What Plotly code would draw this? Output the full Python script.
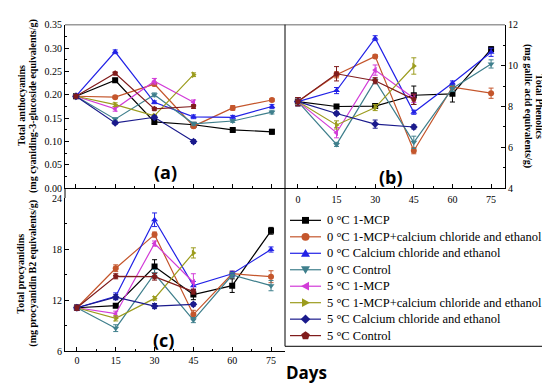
import math
import plotly.graph_objects as go

W, H = 550, 384

days = [0, 15, 30, 45, 60, 75]
days5 = [0, 15, 30, 45]

series_names = [
    "0 °C 1-MCP",
    "0 °C 1-MCP+calcium chloride and ethanol",
    "0 °C Calcium chloride and ethanol",
    "0 °C Control",
    "5 °C 1-MCP",
    "5 °C 1-MCP+calcium chloride and ethanol",
    "5 °C Calcium chloride and ethanol",
    "5 °C Control",
]
colors = ["#000000", "#c4562c", "#2222e6", "#3f7f8c",
          "#d23cd8", "#9c9c1e", "#1a1a8c", "#801c1c"]
symbols = ["square", "circle", "triangle-up", "triangle-down",
           "triangle-left", "triangle-right", "diamond", "pentagon"]

# (a) Total anthocyanins
anth_0_mcp = [0.197, 0.231, 0.142, 0.136, 0.125, 0.121]
anth_0_mcp_ca = [0.197, 0.195, 0.223, 0.133, 0.172, 0.189]
anth_0_ca = [0.197, 0.292, 0.184, 0.153, 0.152, 0.175]
anth_0_ctrl = [0.197, 0.148, 0.200, 0.138, 0.144, 0.163]
anth_5_mcp = [0.197, 0.170, 0.229, 0.184]
anth_5_mcp_ca = [0.197, 0.179, 0.155, 0.243]
anth_5_ca = [0.197, 0.140, 0.152, 0.100]
anth_5_ctrl = [0.197, 0.246, 0.170, 0.175]
anth_err = [
    [0.003, 0.004, 0.003, 0.003, 0.003, 0.005],
    [0.003, 0.003, 0.004, 0.004, 0.005, 0.003],
    [0.003, 0.004, 0.003, 0.004, 0.004, 0.004],
    [0.003, 0.003, 0.004, 0.003, 0.003, 0.004],
    [0.003, 0.005, 0.006, 0.005],
    [0.003, 0.004, 0.003, 0.004],
    [0.003, 0.003, 0.003, 0.004],
    [0.003, 0.003, 0.003, 0.004],
]

# (b) Total phenolics
phen_0_mcp = [8.24, 8.00, 8.02, 8.55, 8.62, 10.80]
phen_0_mcp_ca = [8.24, 9.55, 10.45, 5.84, 8.95, 8.65]
phen_0_ca = [8.24, 8.78, 11.34, 7.72, 9.15, 10.65]
phen_0_ctrl = [8.24, 6.15, 9.26, 6.25, 8.88, 10.08]
phen_5_mcp = [8.24, 6.72, 9.78, 8.40]
phen_5_mcp_ca = [8.24, 7.10, 7.95, 9.98]
phen_5_ca = [8.24, 7.66, 7.14, 7.00]
phen_5_ctrl = [8.24, 9.60, 9.26, 8.35]
phen_err = [
    [0.2, 0.1, 0.1, 0.45, 0.4, 0.12],
    [0.2, 0.15, 0.08, 0.15, 0.1, 0.25],
    [0.2, 0.15, 0.12, 0.1, 0.1, 0.2],
    [0.2, 0.1, 0.12, 0.3, 0.15, 0.2],
    [0.2, 0.25, 0.25, 0.2],
    [0.2, 0.2, 0.15, 0.4],
    [0.2, 0.08, 0.2, 0.1],
    [0.2, 0.35, 0.15, 0.25],
]

# (c) Total procyanidins
proc_0_mcp = [11.1, 11.35, 15.95, 12.65, 13.7, 20.15]
proc_0_mcp_ca = [11.1, 15.75, 19.7, 10.3, 15.1, 14.75]
proc_0_ca = [11.1, 12.45, 21.45, 13.7, 15.1, 17.95]
proc_0_ctrl = [11.1, 8.7, 15.1, 9.65, 14.95, 13.7]
proc_5_mcp = [11.1, 10.4, 18.65, 14.1]
proc_5_mcp_ca = [11.1, 9.85, 12.2, 17.55]
proc_5_ca = [11.1, 12.35, 11.3, 11.5]
proc_5_ctrl = [11.1, 14.8, 14.75, 13.0]
proc_err = [
    [0.3, 0.2, 0.8, 0.6, 0.8, 0.4],
    [0.3, 0.4, 0.3, 0.5, 0.3, 0.7],
    [0.3, 0.4, 0.8, 0.5, 0.3, 0.3],
    [0.3, 0.4, 0.5, 0.3, 0.3, 0.6],
    [0.3, 0.3, 0.3, 1.0],
    [0.3, 0.3, 0.2, 0.6],
    [0.3, 0.3, 0.3, 0.2],
    [0.3, 0.3, 0.4, 0.3],
]

anth = [anth_0_mcp, anth_0_mcp_ca, anth_0_ca, anth_0_ctrl,
        anth_5_mcp, anth_5_mcp_ca, anth_5_ca, anth_5_ctrl]
phen = [phen_0_mcp, phen_0_mcp_ca, phen_0_ca, phen_0_ctrl,
        phen_5_mcp, phen_5_mcp_ca, phen_5_ca, phen_5_ctrl]
proc = [proc_0_mcp, proc_0_mcp_ca, proc_0_ca, proc_0_ctrl,
        proc_5_mcp, proc_5_mcp_ca, proc_5_ca, proc_5_ctrl]


def px_x(p):
    return p / W


def px_y(p):
    return 1 - p / H


fig = go.Figure()

panels = [(anth, anth_err, "x", "y"), (phen, phen_err, "x2", "y2"), (proc, proc_err, "x3", "y3")]
for pi, (vals, errs, xa, ya) in enumerate(panels):
    for i, name in enumerate(series_names):
        xs = days if len(vals[i]) == 6 else days5
        fig.add_trace(go.Scatter(
            x=xs, y=vals[i], name=name, mode="lines+markers",
            xaxis=xa, yaxis=ya,
            line=dict(color=colors[i], width=1.2),
            marker=dict(symbol=symbols[i], size=6, color=colors[i]),
            error_y=dict(type="data", array=errs[i], color=colors[i], thickness=1, width=2.5),
            showlegend=False,
        ))

tickfont = dict(family="Liberation Serif", size=10, color="black")
common = dict(showgrid=False, zeroline=False, showline=True, linecolor="black", linewidth=1,
              ticks="inside", ticklen=4, tickcolor="black", tickfont=tickfont)

C_TOP = 190

fig.update_layout(
    width=W, height=H, margin=dict(l=0, r=0, t=0, b=0),
    paper_bgcolor="white", plot_bgcolor="white",
    xaxis=dict(domain=[px_x(57), px_x(277)], range=[-4.2, 80], anchor="y",
               tickvals=days, showticklabels=False,
               minor=dict(dtick=7.5, tick0=0, ticks="inside", ticklen=2, tickcolor="black"), **common),
    yaxis=dict(domain=[px_y(180), px_y(11)], range=[0, 0.35], anchor="x",
               dtick=0.05, tickformat=".2f",
               minor=dict(dtick=0.025, ticks="inside", ticklen=2, tickcolor="black"), **common),
    xaxis2=dict(domain=[px_x(277), px_x(497)], range=[-5, 80.4], anchor="y2",
                tickvals=days, ticklabelstandoff=2,
                minor=dict(dtick=7.5, tick0=0, ticks="inside", ticklen=2, tickcolor="black"), **common),
    yaxis2=dict(domain=[px_y(180), px_y(11)], range=[4, 12], anchor="x2", side="right",
                dtick=2,
                minor=dict(dtick=1, ticks="inside", ticklen=2, tickcolor="black"), **common),
    xaxis3=dict(domain=[px_x(57), px_x(277)], range=[-4.6, 80.4], anchor="y3",
                tickvals=days,
                minor=dict(dtick=7.5, tick0=0, ticks="inside", ticklen=2, tickcolor="black"), **common),
    yaxis3=dict(domain=[px_y(348), px_y(C_TOP)], range=[6, 24], anchor="x3",
                dtick=6,
                minor=dict(dtick=3, ticks="inside", ticklen=2, tickcolor="black"), **common),
    showlegend=False,
)

shapes = [
    dict(type="line", xref="paper", yref="paper", x0=px_x(57), x1=px_x(497),
         y0=px_y(11), y1=px_y(11), line=dict(color="#9a9a9a", width=1.5)),
    dict(type="line", xref="paper", yref="paper", x0=px_x(277), x1=px_x(277),
         y0=px_y(343), y1=px_y(11), line=dict(color="black", width=1)),
    dict(type="line", xref="paper", yref="paper", x0=px_x(277), x1=1.0,
         y0=px_y(343), y1=px_y(343), line=dict(color="black", width=1)),
    dict(type="line", xref="paper", yref="paper", x0=px_x(57), x1=px_x(57),
         y0=px_y(C_TOP), y1=px_y(180), line=dict(color="black", width=1)),
]

title_font = dict(family="Liberation Serif", size=10, color="black")
lab_font = dict(family="Open Sans", size=18, color="black")


def ann(text, x, y, angle=0, font=title_font, xanchor="center"):
    return dict(text=text, xref="paper", yref="paper", x=px_x(x), y=px_y(y),
                xanchor=xanchor, yanchor="middle", textangle=angle,
                showarrow=False, font=font)


annotations = [
    ann("<b>Total anthocyanins</b>", 13, 95, -90),
    ann("<b>(mg cyaniding-3-glucoside equivalents/g)</b>", 25, 95, -90),
    ann("<b>Total Phenolics</b>", 532, 95, 90),
    ann("<b>(mg gallic acid equivalents/g)</b>", 520, 95, 90),
    ann("<b>Total procyanidins</b>", 13, 268, -90),
    ann("<b>(mg procyanidin B2 equivalents/g)</b>", 25, 268, -90),
    ann("<b>(a)</b>", 157, 163, font=lab_font),
    ann("<b>(b)</b>", 383, 168, font=lab_font),
    ann("<b>(c)</b>", 155, 337, font=lab_font),
    ann("<b>Days</b>", 299, 370, font=dict(family="Open Sans", size=17, color="black")),
]


# ----- legend (decoration drawn in pixel space) -----
def poly_path(cx, cy, pts):
    s = ""
    for k, (dx, dy) in enumerate(pts):
        s += ("M" if k == 0 else "L") + f"{px_x(cx + dx):.5f},{px_y(cy + dy):.5f} "
    return s + "Z"


def reg_poly(n, r, start_deg):
    return [(r * math.cos(math.radians(start_deg + 360 * k / n)),
             r * math.sin(math.radians(start_deg + 360 * k / n))) for k in range(n)]


marker_pts = {
    "square": [(-3.5, -3.5), (3.5, -3.5), (3.5, 3.5), (-3.5, 3.5)],
    "triangle-up": [(0, -4.5), (4.5, 3.5), (-4.5, 3.5)],
    "triangle-down": [(0, 4.5), (4.5, -3.5), (-4.5, -3.5)],
    "triangle-left": [(-4.5, 0), (3.5, -4.5), (3.5, 4.5)],
    "triangle-right": [(4.5, 0), (-3.5, -4.5), (-3.5, 4.5)],
    "diamond": [(0, -4.8), (4.8, 0), (0, 4.8), (-4.8, 0)],
    "pentagon": reg_poly(5, 4.5, -90),
}

leg_font = dict(family="Liberation Serif", size=12.5, color="black")
for i, name in enumerate(series_names):
    ry = 213 + 17 * i
    shapes.append(dict(type="line", xref="paper", yref="paper",
                       x0=px_x(282), x1=px_x(313), y0=px_y(ry), y1=px_y(ry),
                       line=dict(color=colors[i], width=1.2)))
    if symbols[i] == "circle":
        shapes.append(dict(type="circle", xref="paper", yref="paper",
                           x0=px_x(297.5 - 4), x1=px_x(297.5 + 4),
                           y0=px_y(ry + 4), y1=px_y(ry - 4),
                           fillcolor=colors[i], line=dict(color=colors[i], width=0)))
    else:
        shapes.append(dict(type="path", xref="paper", yref="paper",
                           path=poly_path(297.5, ry, marker_pts[symbols[i]]),
                           fillcolor=colors[i], line=dict(color=colors[i], width=0)))
    annotations.append(ann(name, 317, ry, font=leg_font, xanchor="left"))

fig.update_layout(shapes=shapes, annotations=annotations)

fig.write_html("out.html")
